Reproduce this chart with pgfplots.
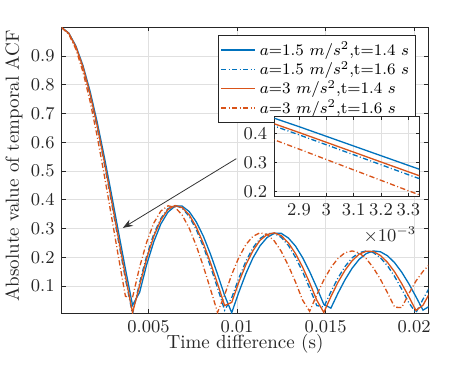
\documentclass[border=0pt]{standalone}
\usepackage{fontspec}
\usepackage{pgfplots}
\pgfplotsset{compat=1.18}
\usepackage{pgfplotstable}
\usetikzlibrary{arrows.meta}
\definecolor{mBlue}{HTML}{0072BD}
\definecolor{mOrange}{HTML}{D95319}
\definecolor{axgray}{HTML}{262626}

% |ACF|, one table per curve (time in s)
\pgfplotstableread{
t v
0.0001 0.999
0.0005 0.980
0.0009 0.935
0.0013 0.867
0.0017 0.778
0.0021 0.671
0.0025 0.551
0.0029 0.423
0.0033 0.290
0.0037 0.159
0.0041 0.033
0.0045 0.078
0.0049 0.175
0.0053 0.254
0.0057 0.316
0.0061 0.357
0.0065 0.378
0.0069 0.378
0.0073 0.359
0.0077 0.323
0.0081 0.273
0.0085 0.211
0.0089 0.141
0.0093 0.067
0.0097 0.007
0.0101 0.078
0.0105 0.143
0.0109 0.198
0.0113 0.240
0.0117 0.269
0.0121 0.283
0.0125 0.283
0.0129 0.267
0.0133 0.239
0.0137 0.199
0.0141 0.150
0.0145 0.095
0.0149 0.036
0.0153 0.023
0.0157 0.075
0.0161 0.122
0.0165 0.162
0.0169 0.193
0.0173 0.213
0.0177 0.222
0.0181 0.219
0.0185 0.205
0.0189 0.181
0.0193 0.148
0.0197 0.108
0.0201 0.063
0.0205 0.016
0.0209 0.031
}\dataBa

\pgfplotstableread{
t v
0.0001 0.999
0.0005 0.978
0.0009 0.931
0.0013 0.859
0.0017 0.765
0.0021 0.653
0.0025 0.528
0.0029 0.395
0.0033 0.258
0.0037 0.124
0.0041 0.003
0.0045 0.112
0.0049 0.205
0.0053 0.281
0.0057 0.335
0.0061 0.369
0.0065 0.380
0.0069 0.371
0.0073 0.342
0.0077 0.296
0.0081 0.237
0.0085 0.168
0.0089 0.093
0.0093 0.016
0.0097 0.059
0.0101 0.127
0.0105 0.186
0.0109 0.233
0.0113 0.265
0.0117 0.282
0.0121 0.283
0.0125 0.269
0.0129 0.241
0.0133 0.200
0.0137 0.150
0.0141 0.093
0.0145 0.032
0.0149 0.027
0.0153 0.080
0.0157 0.128
0.0161 0.168
0.0165 0.198
0.0169 0.216
0.0173 0.222
0.0177 0.216
0.0181 0.198
0.0185 0.170
0.0189 0.133
0.0193 0.089
0.0197 0.042
0.0201 0.007
0.0205 0.054
0.0209 0.098
}\dataBb

\pgfplotstableread{
t v
0.0001 0.999
0.0005 0.979
0.0009 0.932
0.0013 0.862
0.0017 0.769
0.0021 0.659
0.0025 0.535
0.0029 0.403
0.0033 0.268
0.0037 0.134
0.0041 0.007
0.0045 0.102
0.0049 0.196
0.0053 0.273
0.0057 0.330
0.0061 0.366
0.0065 0.380
0.0069 0.373
0.0073 0.348
0.0077 0.305
0.0081 0.248
0.0085 0.181
0.0089 0.108
0.0093 0.032
0.0097 0.043
0.0101 0.113
0.0105 0.174
0.0109 0.223
0.0113 0.259
0.0117 0.279
0.0121 0.285
0.0125 0.275
0.0129 0.250
0.0133 0.213
0.0137 0.166
0.0141 0.111
0.0145 0.051
0.0149 0.008
0.0153 0.063
0.0157 0.113
0.0161 0.155
0.0165 0.188
0.0169 0.211
0.0173 0.221
0.0177 0.220
0.0181 0.206
0.0185 0.182
0.0189 0.149
0.0193 0.108
0.0197 0.063
0.0201 0.015
0.0205 0.033
0.0209 0.078
}\dataOa

\pgfplotstableread{
t v
0.0001 0.999
0.0005 0.976
0.0009 0.924
0.0013 0.845
0.0017 0.743
0.0021 0.622
0.0025 0.487
0.0029 0.346
0.0033 0.203
0.0037 0.064
0.0041 0.060
0.0045 0.166
0.0049 0.253
0.0053 0.319
0.0057 0.361
0.0061 0.379
0.0065 0.374
0.0069 0.347
0.0073 0.301
0.0077 0.240
0.0081 0.168
0.0085 0.089
0.0089 0.008
0.0093 0.069
0.0097 0.140
0.0101 0.199
0.0105 0.244
0.0109 0.273
0.0113 0.285
0.0117 0.279
0.0121 0.257
0.0125 0.220
0.0129 0.171
0.0133 0.114
0.0137 0.051
0.0141 0.012
0.0145 0.069
0.0149 0.121
0.0153 0.164
0.0157 0.196
0.0161 0.216
0.0165 0.222
0.0169 0.215
0.0173 0.195
0.0177 0.163
0.0181 0.123
0.0185 0.076
0.0189 0.026
0.0193 0.025
0.0197 0.073
0.0201 0.117
0.0205 0.151
0.0209 0.177
}\dataOb

\pgfplotsset{
  matlab/.style={
    scale only axis,
    tick align=inside, tick pos=both,
    major tick length=2pt,
    grid=major,
    grid style={line width=0.4pt, black!12},
    axis line style={axgray, line width=0.5pt},
    tick style={axgray, line width=0.4pt},
    tick label style={font=\fontsize{9}{10}\selectfont, text=axgray},
    scaled ticks=false,
  },
  solidc/.style={line width=0.65pt},
  dashc/.style={line width=0.65pt, dash pattern=on 2.6pt off 1.2pt on 0.5pt off 1.2pt},
}

\begin{document}
\begin{tikzpicture}
\path[use as bounding box] (0,0) rectangle (237pt,182.5pt);

\begin{axis}[
    matlab,
    at={(30.85pt,25.85pt)}, anchor=south west,
    width=183.3pt, height=143pt,
    xmin=0.0001, xmax=0.0208,
    ymin=0.005, ymax=1,
    xtick={0.005,0.01,0.015,0.02},
    xticklabels={0.005,0.01,0.015,0.02},
    ytick={0.1,0.2,0.3,0.4,0.5,0.6,0.7,0.8,0.9},
    yticklabels={0.1,0.2,0.3,0.4,0.5,0.6,0.7,0.8,0.9},
    xlabel={Time difference (s)},
    ylabel={Absolute value of temporal ACF},
    label style={font=\fontsize{9.5}{11}\selectfont, text=axgray},
    xlabel style={at={(axis description cs:0.5,-0.108)}, anchor=center},
    ylabel style={at={(axis description cs:-0.13,0.515)}, anchor=center},
    legend style={at={(0.966,0.972)}, anchor=north east,
        draw=axgray, fill=white, inner sep=1.2pt, row sep=-2.6pt,
        font=\fontsize{8}{9}\selectfont, cells={anchor=west}},
    legend image code/.code={\draw[#1, line width=0.8pt] (0pt,0pt) -- (17pt,0pt);},
]
\addplot[mBlue, solidc] table[x=t, y=v] {\dataBa};
\addlegendentry{$a$=1.5 $m/s^2$,t=1.4 $s$}
\addplot[mBlue, dashc] table[x=t, y=v] {\dataBb};
\addlegendentry{$a$=1.5 $m/s^2$,t=1.6 $s$}
\addplot[mOrange, solidc] table[x=t, y=v] {\dataOa};
\addlegendentry{$a$=3 $m/s^2$,t=1.4 $s$}
\addplot[mOrange, dashc] table[x=t, y=v] {\dataOb};
\addlegendentry{$a$=3 $m/s^2$,t=1.6 $s$}

% arrow from the zoom box to the first lobe
\draw[-{Stealth[length=5pt, width=3.6pt]}, line width=0.4pt, black!80]
    (axis cs:0.00996,0.543) -- (axis cs:0.00355,0.302);
\end{axis}

% zoomed inset
\begin{axis}[
    matlab,
    name=ins,
    at={(137.15pt,84.5pt)}, anchor=south west,
    width=72.5pt, height=39.65pt,
    axis background/.style={fill=white},
    major tick length=1.5pt,
    xmin=0.00281, xmax=0.00334,
    ymin=0.185, ymax=0.457,
    xtick={0.0029,0.003,0.0031,0.0032,0.0033},
    xticklabels={2.9,3,3.1,3.2,3.3},
    ytick={0.2,0.3,0.4},
    yticklabels={0.2,0.3,0.4},
]
\addplot[mBlue, solidc] table[x=t, y=v] {\dataBa};
\addplot[mBlue, dashc] table[x=t, y=v] {\dataBb};
\addplot[mOrange, solidc] table[x=t, y=v] {\dataOa};
\addplot[mOrange, dashc] table[x=t, y=v] {\dataOb};
\end{axis}
\node[anchor=north east, inner sep=0pt, font=\fontsize{9}{10}\selectfont, text=axgray]
    at ([xshift=-1.3pt, yshift=-15pt]ins.south east) {$\times10^{-3}$};
\end{tikzpicture}
\end{document}
